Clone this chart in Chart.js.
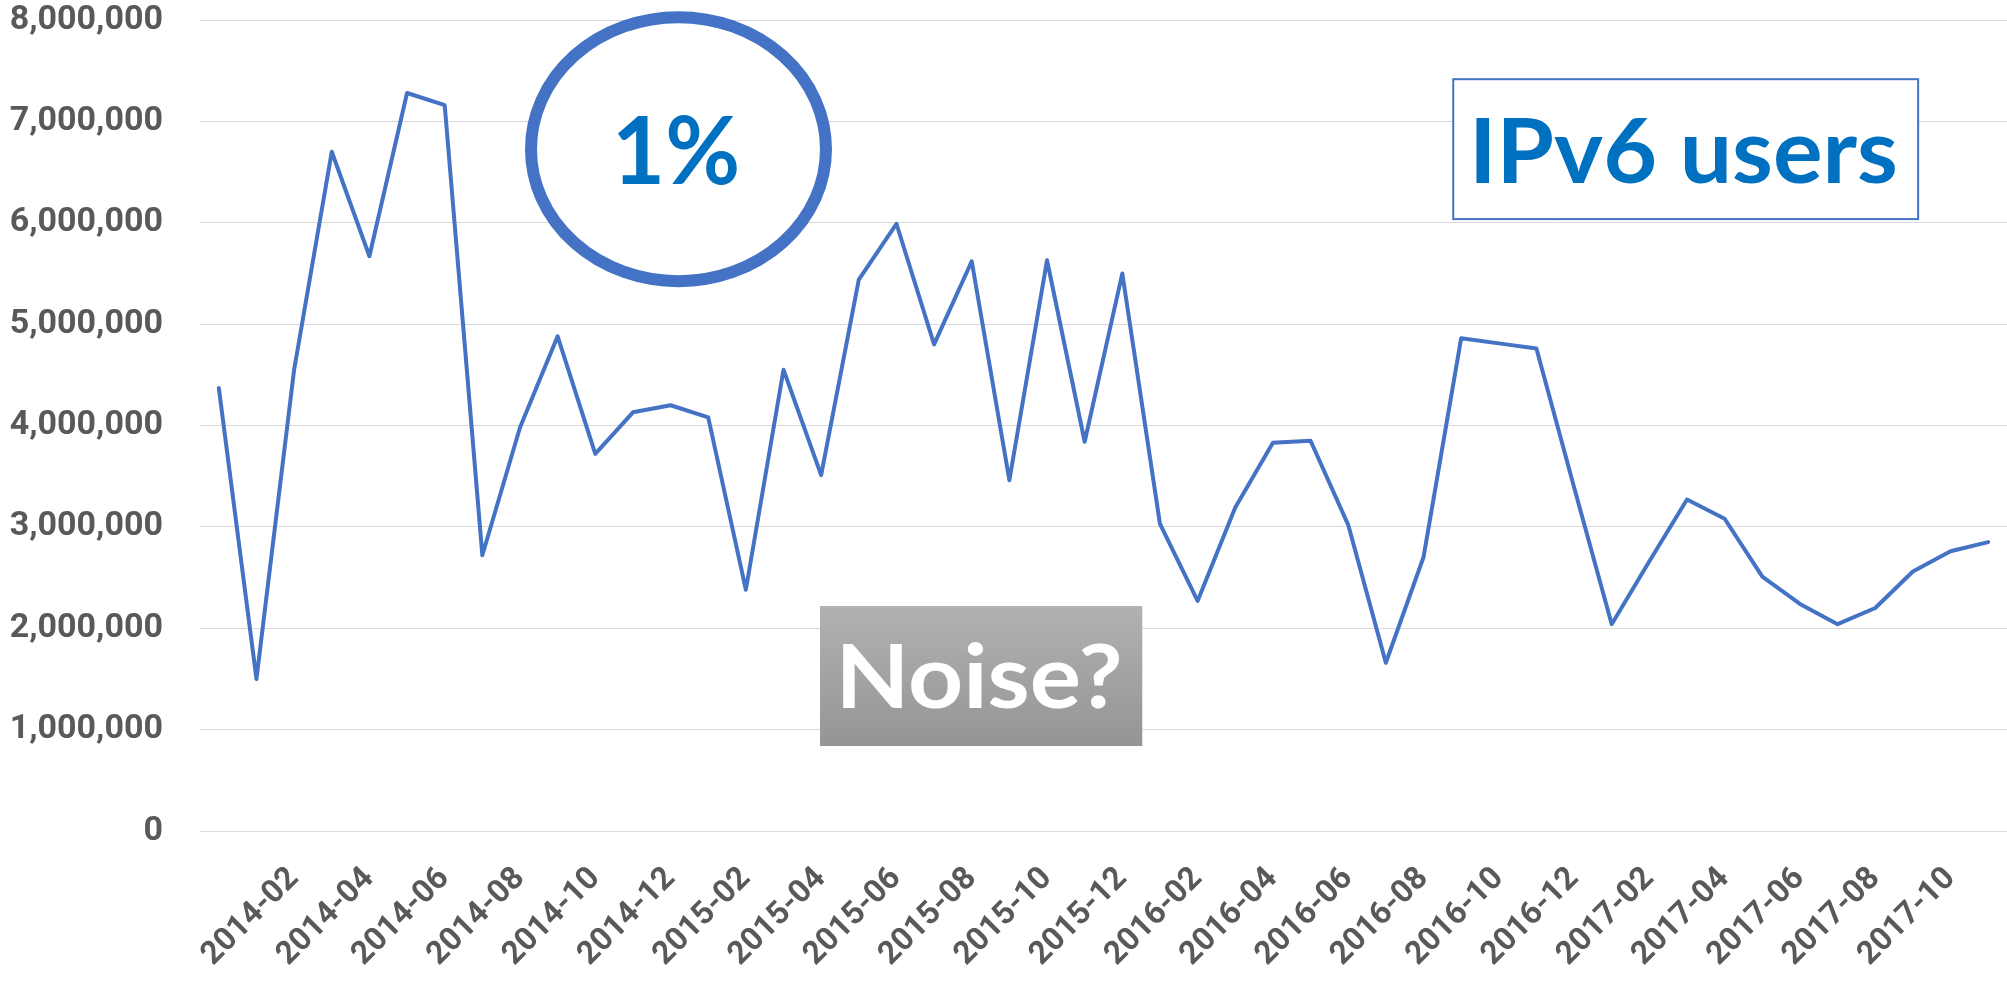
<!DOCTYPE html>
<html>
<head>
<meta charset="utf-8">
<title>IPv6 users</title>
<script src="https://cdn.jsdelivr.net/npm/chart.js@4.4.1/dist/chart.umd.min.js"></script>
<style>
    html, body { margin: 0; padding: 0; background: #ffffff; }
    #wrap { width: 2007px; height: 981px; }
</style>
</head>
<body>
<div id="wrap"><canvas id="chart" width="2007" height="981"></canvas></div>
<script>
// Monthly categories (Dec 2013 .. Nov 2017)
const months = [
    '2013-12',
    '2014-01', '2014-02', '2014-03', '2014-04', '2014-05', '2014-06',
    '2014-07', '2014-08', '2014-09', '2014-10', '2014-11', '2014-12',
    '2015-01', '2015-02', '2015-03', '2015-04', '2015-05', '2015-06',
    '2015-07', '2015-08', '2015-09', '2015-10', '2015-11', '2015-12',
    '2016-01', '2016-02', '2016-03', '2016-04', '2016-05', '2016-06',
    '2016-07', '2016-08', '2016-09', '2016-10', '2016-11', '2016-12',
    '2017-01', '2017-02', '2017-03', '2017-04', '2017-05', '2017-06',
    '2017-07', '2017-08', '2017-09', '2017-10', '2017-11'
];

// IPv6 users per month
const ipv6Users = [
    4370000,
    1500000, 4550000, 6700000, 5670000, 7280000, 7160000,
    2720000, 3980000, 4880000, 3720000, 4130000, 4200000,
    4080000, 2380000, 4550000, 3510000, 5440000, 5990000,
    4800000, 5620000, 3460000, 5630000, 3840000, 5500000,
    3030000, 2270000, 3190000, 3830000, 3850000, 3020000,
    1660000, 2700000, 4860000, 4810000, 4760000, 3390000,
    2040000, 2660000, 3270000, 3080000, 2510000, 2240000,
    2040000, 2200000, 2560000, 2760000, 2850000
];

// Labels shown on the category axis
const tickLabels = [
    '2014-02', '2014-04', '2014-06', '2014-08', '2014-10', '2014-12',
    '2015-02', '2015-04', '2015-06', '2015-08', '2015-10', '2015-12',
    '2016-02', '2016-04', '2016-06', '2016-08', '2016-10', '2016-12',
    '2017-02', '2017-04', '2017-06', '2017-08', '2017-10'
];

const yMin = 0;
const yMax = 8000000;
const yStep = 1000000;

const axisGrey = '#595959';
const lineBlue = '#4472C4';
const textBlue = '#0070C0';

// draw bold text squeezed to a given ink width, centred on cx
function fitText(ctx, text, cx, baseline, capHeight, inkWidth, color) {
    const size = capHeight / 0.72;
    ctx.save();
    ctx.font = `bold ${size}px Lato`;
    ctx.textAlign = 'left';
    ctx.textBaseline = 'alphabetic';
    const m = ctx.measureText(text);
    const w = m.actualBoundingBoxLeft + m.actualBoundingBoxRight;
    ctx.translate(cx, baseline);
    ctx.scale(inkWidth / w, 1);
    ctx.fillStyle = color;
    ctx.fillText(text, (m.actualBoundingBoxLeft - m.actualBoundingBoxRight) / 2, 0);
    ctx.restore();
}

// Callout shapes, anchored in data space (category index / value)
const notesPlugin = {
    id: 'notes',
    afterDraw(chart) {
        const { ctx, scales: { x, y } } = chart;

        // "1%" ring
        const ex = x.getPixelForValue(12.21);
        const ey = y.getPixelForValue(6726000);
        ctx.save();
        ctx.beginPath();
        ctx.ellipse(ex, ey, 147.5, 132, 0, 0, Math.PI * 2);
        ctx.fillStyle = '#ffffff';
        ctx.fill();
        ctx.lineWidth = 12;
        ctx.strokeStyle = lineBlue;
        ctx.stroke();
        ctx.restore();
        fitText(ctx, '1%', ex - 1, ey + 35, 67, 119, textBlue);

        // "IPv6 users" box
        const bx0 = x.getPixelForValue(32.79), bx1 = x.getPixelForValue(45.14);
        const by0 = y.getPixelForValue(7416000), by1 = y.getPixelForValue(6036000);
        ctx.save();
        ctx.fillStyle = '#ffffff';
        ctx.fillRect(bx0, by0, bx1 - bx0, by1 - by0);
        ctx.lineWidth = 2;
        ctx.strokeStyle = lineBlue;
        ctx.strokeRect(bx0, by0, bx1 - bx0, by1 - by0);
        ctx.restore();
        fitText(ctx, 'IPv6 users', (bx0 + bx1) / 2, by0 + 104, 65, 419, textBlue);

        // "Noise?" box
        const nx0 = x.getPixelForValue(15.97), nx1 = x.getPixelForValue(24.53);
        const ny0 = y.getPixelForValue(2219000), ny1 = y.getPixelForValue(838000);
        ctx.save();
        const g = ctx.createLinearGradient(0, ny0, 0, ny1);
        g.addColorStop(0, '#b1b1b1');
        g.addColorStop(1, '#959595');
        ctx.fillStyle = g;
        ctx.fillRect(nx0, ny0, nx1 - nx0, ny1 - ny0);
        ctx.restore();
        fitText(ctx, 'Noise?', (nx0 + nx1) / 2, ny0 + 102, 63, 276, '#ffffff');
    }
};

new Chart(document.getElementById('chart').getContext('2d'), {
    type: 'line',
    data: {
        labels: months,
        datasets: [{
            data: ipv6Users,
            borderColor: lineBlue,
            borderWidth: 4,
            borderJoinStyle: 'round',
            borderCapStyle: 'round',
            tension: 0,
            pointRadius: 0,
            fill: false
        }]
    },
    options: {
        responsive: false,
        animation: false,
        devicePixelRatio: 1,
        layout: { padding: { top: 20, right: 0, bottom: 0, left: 0 } },
        plugins: { legend: { display: false }, tooltip: { enabled: false } },
        scales: {
            x: {
                offset: true,
                grid: { display: false, drawTicks: false },
                border: { display: false },
                ticks: {
                    autoSkip: false,
                    minRotation: 45,
                    maxRotation: 45,
                    padding: 29,
                    color: axisGrey,
                    font: { family: 'Roboto', weight: 'bold', size: 32 },
                    callback(value) {
                        const lab = this.getLabelForValue(value);
                        return tickLabels.includes(lab) ? lab : null;
                    }
                },
                afterFit(scale) { scale.height = 150; }
            },
            y: {
                min: yMin,
                max: yMax,
                grid: { color: '#d9d9d9', lineWidth: 1, drawTicks: false },
                border: { display: false },
                ticks: {
                    stepSize: yStep,
                    padding: 37,
                    color: axisGrey,
                    font: { family: 'Roboto', weight: 'bold', size: 34 },
                    callback: (v) => v.toLocaleString('en-US')
                },
                afterFit(scale) {
                    scale.width = 200;
                    scale.paddingTop = 0;
                    scale.paddingBottom = 0;
                }
            }
        }
    },
    plugins: [notesPlugin]
});
</script>
</body>
</html>
